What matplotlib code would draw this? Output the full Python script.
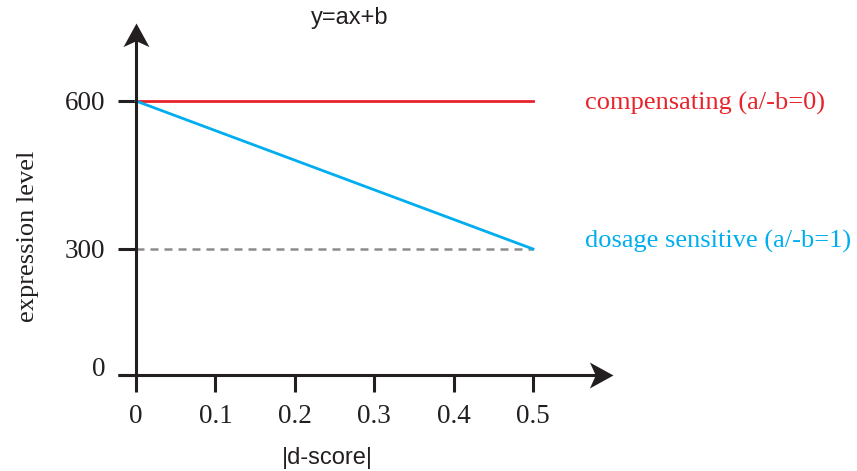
import matplotlib
matplotlib.use("Agg")
import numpy as np
import matplotlib.pyplot as plt
from matplotlib.path import Path
from matplotlib.transforms import ScaledTranslation

# Model values: expression level vs |d-score| for y = a*x + b
d_score = [0.0, 0.5]
compensating = [600, 600]
dosage_sensitive = [600, 300]
baseline_half = [300, 300]

x_ticks = [0, 0.1, 0.2, 0.3, 0.4, 0.5]
x_tick_labels = ["0", "0.1", "0.2", "0.3", "0.4", "0.5"]
y_ticks = [0, 300, 600]
y_tick_labels = ["0", "300", "600"]

INK = "#231F20"
RED = "#E8232B"
BLUE = "#00AEEF"
GRAY = "#8C8C8C"
SERIF = "Liberation Serif"
SANS = "Liberation Sans"

W, H, DPI = 857, 471, 100
fig = plt.figure(figsize=(W / DPI, H / DPI), dpi=DPI)

# schematic vertical axis: piecewise-linear spacing between the labelled levels
Y_ANCHOR = np.array([-1e4, 0, 300, 600, 1e4])
P_ANCHOR = np.array([-1e4 * 126 / 300, 0, 126, 274, 274 + 9400 * 148 / 300])


def y_fwd(v):
    return np.interp(v, Y_ANCHOR, P_ANCHOR)


def y_inv(p):
    return np.interp(p, P_ANCHOR, Y_ANCHOR)


X0_PX, Y0_PX = 136, 375          # origin position in pixels
px_per_x = (533 - 136) / 0.5
left_px, right_px, top_px, bottom_px = 100, 650, 10, 410
ax = fig.add_axes([left_px / W, 1 - bottom_px / H,
                   (right_px - left_px) / W, (bottom_px - top_px) / H])
ax.set_yscale("function", functions=(y_fwd, y_inv))
ax.set_xlim((left_px - X0_PX) / px_per_x, (right_px - X0_PX) / px_per_x)
ax.set_ylim(y_inv(Y0_PX - bottom_px), y_inv(Y0_PX - top_px))
ax.patch.set_alpha(0)

for side in ["top", "right"]:
    ax.spines[side].set_visible(False)
for side in ["left", "bottom"]:
    ax.spines[side].set_position(("data", 0))
    ax.spines[side].set_color("none")

# axis lines ending in notched arrowheads
x_tip = (613 - X0_PX) / px_per_x
x_start = (118 - X0_PX) / px_per_x
y_tip = y_inv(Y0_PX - 23)
ax.plot([x_start, x_tip - 15 / px_per_x], [0, 0], color=INK, lw=2.2,
        solid_capstyle="butt", zorder=4)
ax.plot([0, 0], [0, y_inv(Y0_PX - 38)], color=INK, lw=2.2,
        solid_capstyle="butt", zorder=4)

head_right = Path([(0, 0), (-1, 0.55), (-0.75, 0), (-1, -0.55), (0, 0)],
                  [Path.MOVETO, Path.LINETO, Path.LINETO, Path.LINETO, Path.CLOSEPOLY])
head_up = Path([(0, 0), (0.55, -1), (0, -0.75), (-0.55, -1), (0, 0)],
               [Path.MOVETO, Path.LINETO, Path.LINETO, Path.LINETO, Path.CLOSEPOLY])
ax.plot([x_tip], [0], marker=head_right, markersize=34, color=INK,
        markeredgewidth=0, linestyle="none", zorder=5)
ax.plot([0], [y_tip], marker=head_up, markersize=34, color=INK,
        markeredgewidth=0, linestyle="none", zorder=5)

# data lines
ax.plot(d_score, baseline_half, color=GRAY, lw=1.8, linestyle=(0, (3.2, 2.4)),
        solid_capstyle="butt", zorder=2)
ax.plot(d_score, compensating, color=RED, lw=2.0, zorder=3)
ax.plot(d_score, dosage_sensitive, color=BLUE, lw=2.0, zorder=3)

# ticks
ax.set_xticks(x_ticks)
ax.set_xticklabels(x_tick_labels, fontfamily=SERIF, fontsize=19.5)
ax.set_yticks(y_ticks)
ax.set_yticklabels(y_tick_labels, fontfamily=SERIF, fontsize=19.5)
ax.yaxis.set_minor_locator(matplotlib.ticker.NullLocator())
ax.tick_params(axis="x", direction="out", length=12, width=2.2, color=INK,
               pad=9, labelcolor=INK)
ax.tick_params(axis="y", direction="out", length=13, width=2.2, color=INK,
               pad=9, labelcolor=INK)
zero_lbl = ax.get_yticklabels()[0]
zero_lbl.set_transform(zero_lbl.get_transform() +
                       ScaledTranslation(0, 8 / DPI, fig.dpi_scale_trans))

# line annotations
lift = ScaledTranslation(0, 8 / DPI, fig.dpi_scale_trans)
x_txt = (585 - X0_PX) / px_per_x
ax.text(x_txt, 600, "compensating (a/-b=0)", color=RED, fontfamily=SERIF,
        fontsize=19, ha="left", va="center",
        transform=ax.transData + ScaledTranslation(0, -2 / DPI, fig.dpi_scale_trans))
ax.text(x_txt, 300, "dosage sensitive (a/-b=1)", color=BLUE,
        fontfamily=SERIF, fontsize=19, ha="left", va="center",
        transform=ax.transData + lift)

# title and axis labels
fig.text(350 / W, 1 - 18 / H, "y=ax+b", fontfamily=SANS, fontsize=17,
         ha="center", va="center", color=INK)
fig.text(327 / W, 1 - 458 / H, "|d-score|", fontfamily=SANS, fontsize=17,
         ha="center", va="center", color=INK)
fig.text(28 / W, 1 - 236 / H, "expression level", fontfamily=SERIF, fontsize=19,
         ha="center", va="center", rotation=90, color=INK)

fig.savefig("out.png", dpi=DPI)
